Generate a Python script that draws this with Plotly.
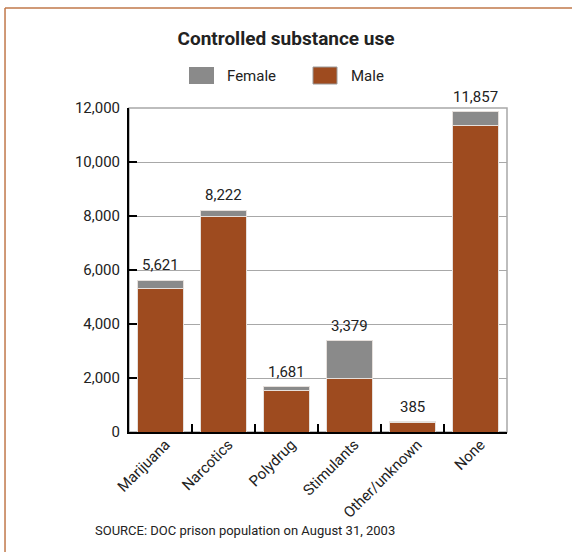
import plotly.graph_objects as go

# Controlled substance use by sex, DOC prison population (August 31, 2003)
categories = ["Marijuana", "Narcotics", "Polydrug", "Stimulants", "Other/unknown", "None"]
male = [5320, 8000, 1520, 1980, 355, 11370]
female = [301, 222, 161, 1399, 30, 487]
totals = [m + f for m, f in zip(male, female)]

y_ticks = [0, 2000, 4000, 6000, 8000, 10000, 12000]

MALE_COLOR = "#9e4b1f"
FEMALE_COLOR = "#8a8a8a"
FRAME_COLOR = "#c0784a"
TEXT_COLOR = "#222222"
BASE_FONT = "Roboto, Liberation Sans, Arial, sans-serif"

fig = go.Figure()
fig.add_trace(go.Bar(
    x=categories, y=male, name="Male",
    marker=dict(color=MALE_COLOR, line=dict(color="#e6e0dc", width=1)),
    showlegend=False,
))
fig.add_trace(go.Bar(
    x=categories, y=female, name="Female",
    marker=dict(color=FEMALE_COLOR, line=dict(color="#e6e0dc", width=1)),
    showlegend=False,
))

# total labels above each stacked bar
for cat, tot in zip(categories, totals):
    fig.add_annotation(
        x=cat, y=tot, text=f"{tot:,}", showarrow=False,
        yanchor="bottom", yshift=4,
        font=dict(family=BASE_FONT, size=15, color=TEXT_COLOR),
    )

# plot-area box (top and right edges in light gray)
fig.add_shape(type="rect", xref="paper", yref="paper", x0=0, x1=1, y0=0, y1=1,
              line=dict(color="#a8a8a8", width=1.5), layer="below")

# page frame: top and left rules
fig.add_shape(type="line", xref="paper", yref="paper", x0=-0.328, x1=1.2, y0=1.3086, y1=1.3086,
              line=dict(color=FRAME_COLOR, width=1.5))
fig.add_shape(type="line", xref="paper", yref="paper", x0=-0.328, x1=-0.328, y0=-0.4, y1=1.3086,
              line=dict(color=FRAME_COLOR, width=1.5))

# legend swatches
fig.add_shape(type="rect", xref="paper", yref="paper", x0=0.1587, x1=0.2249, y0=1.074, y1=1.1265,
              line=dict(width=0), fillcolor=FEMALE_COLOR)
fig.add_shape(type="rect", xref="paper", yref="paper", x0=0.4868, x1=0.5503, y0=1.074, y1=1.1265,
              line=dict(color="#9a9a9a", width=1), fillcolor=MALE_COLOR)
fig.add_annotation(xref="paper", yref="paper", x=0.254, y=1.1, text="Female", showarrow=False,
                   xanchor="left", yanchor="middle",
                   font=dict(family=BASE_FONT, size=15, color=TEXT_COLOR))
fig.add_annotation(xref="paper", yref="paper", x=0.582, y=1.1, text="Male", showarrow=False,
                   xanchor="left", yanchor="middle",
                   font=dict(family=BASE_FONT, size=15, color=TEXT_COLOR))

# source note
fig.add_annotation(xref="paper", yref="paper", x=-0.0952, y=-0.3025,
                   text="SOURCE: DOC prison population on August 31, 2003", showarrow=False,
                   xanchor="left", yanchor="middle",
                   font=dict(family=BASE_FONT, size=13, color=TEXT_COLOR))

fig.update_layout(
    width=572, height=552,
    margin=dict(l=129, r=65, t=108, b=120),
    paper_bgcolor="white", plot_bgcolor="white",
    barmode="stack", bargap=0.27,
    title=dict(text="<b>Controlled substance use</b>", x=0.5, xanchor="center",
               y=1 - 38 / 552, yanchor="middle", yref="container",
               font=dict(family=BASE_FONT, size=19, color=TEXT_COLOR)),
    font=dict(family=BASE_FONT, size=15, color=TEXT_COLOR),
    showlegend=False,
)

fig.update_xaxes(
    type="category", tickangle=-45, tickson="boundaries",
    ticks="inside", ticklen=8, tickwidth=2, tickcolor="black",
    showline=True, linecolor="black", linewidth=2,
    ticklabelshift=5, ticklabelstandoff=-4,
    showgrid=False, tickfont=dict(family=BASE_FONT, size=15, color=TEXT_COLOR),
)
fig.update_yaxes(
    range=[0, 12000], tickvals=y_ticks, tickformat=",d",
    ticks="inside", ticklen=8, tickwidth=2, tickcolor="black",
    showline=True, linecolor="black", linewidth=2,
    showgrid=True, gridcolor="#a8a8a8", gridwidth=1, zeroline=False,
    ticklabelstandoff=4,
    tickfont=dict(family=BASE_FONT, size=15, color=TEXT_COLOR),
)

fig.write_html("out.html")
